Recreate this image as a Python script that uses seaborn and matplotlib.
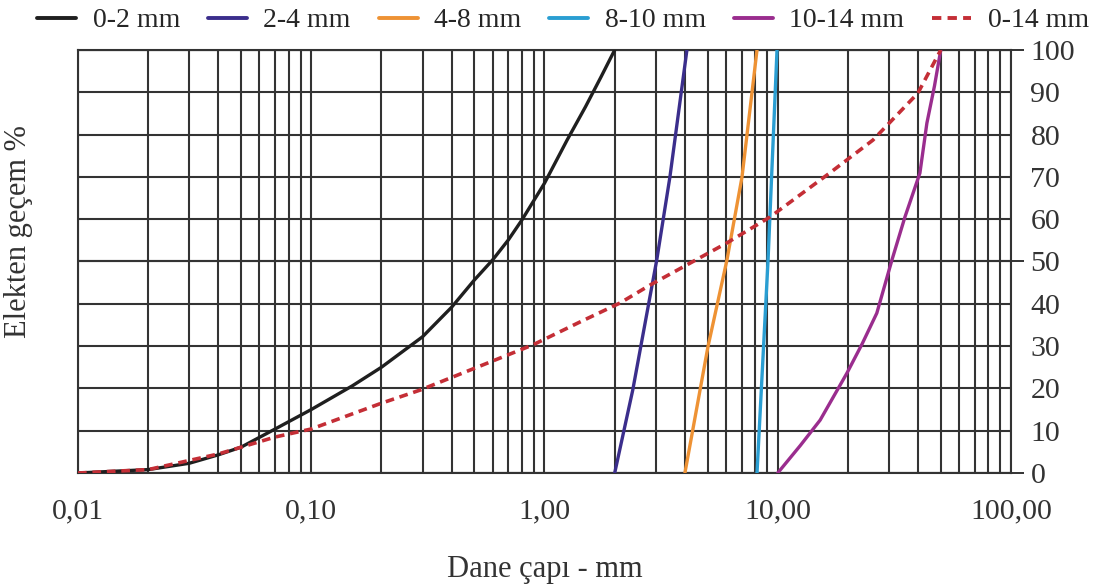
import seaborn as sns
import pandas as pd
import matplotlib.pyplot as plt
from matplotlib.ticker import FixedLocator, NullFormatter

# sieve data (grain size in mm, % passing)
x_0_2 = [0.01, 0.02, 0.03, 0.04, 0.05, 0.07, 0.10, 0.15, 0.20, 0.30, 0.40, 0.50, 0.60, 0.70,
         0.80, 1.00, 1.25, 1.50, 1.75, 2.00]
y_0_2 = [0, 0.8, 2.3, 4.3, 6.1, 10.4, 15.0, 20.6, 25.0, 32.2, 39.2, 45.6, 50.4, 55.1,
         59.8, 68.5, 78.7, 86.6, 93.7, 100]

x_2_4 = [2.0, 2.39, 3.03, 3.45, 4.08]
y_2_4 = [0, 19.6, 50.4, 70.0, 100]

x_4_8 = [4.0, 5.02, 6.06, 7.03, 8.15]
y_4_8 = [0, 29.8, 50.4, 70.0, 100]

x_8_10 = [8.15, 9.09, 9.93]
y_8_10 = [0, 50.4, 100]

x_10_14 = [10.0, 12.5, 15.2, 19.8, 23.0, 26.6, 30.9, 35.1, 40.7, 43.6, 47.0, 50.0]
y_10_14 = [0, 6.5, 12.5, 23.6, 30.5, 37.8, 50.4, 60.5, 70.9, 82.7, 91.5, 100]

x_0_14 = [0.01, 0.02, 0.04, 0.07, 0.10, 0.20, 0.293, 0.893, 1.42, 2.11, 2.83, 6.06, 9.26, 16.6, 25.6, 39.9, 50.0]
y_0_14 = [0, 0.8, 4.5, 8.5, 10.4, 16.5, 19.6, 30.3, 35.7, 40.2, 44.4, 54.4, 60.5, 70.8, 78.7, 89.8, 100]

series = [
    ('0-2 mm', x_0_2, y_0_2, '#1f1f1f', '-'),
    ('2-4 mm', x_2_4, y_2_4, '#3b2e8c', '-'),
    ('4-8 mm', x_4_8, y_4_8, '#ee9234', '-'),
    ('8-10 mm', x_8_10, y_8_10, '#2a9ed2', '-'),
    ('10-14 mm', x_10_14, y_10_14, '#9a2d8e', '-'),
    ('0-14 mm', x_0_14, y_0_14, '#c42e36', '--'),
]

xticks = [0.01, 0.1, 1, 10, 100]
xticklabels = ['0,01', '0,10', '1,00', '10,00', '100,00']
yticks = list(range(0, 101, 10))

sns.set_style('white')
plt.rcParams['font.family'] = ['Liberation Serif', 'DejaVu Serif']

fig = plt.figure(figsize=(10.94, 5.88), dpi=100)
ax = fig.add_axes([0.0713, 0.1956, 0.8528, 0.7194])

for name, xs, ys, color, ls in series:
    df = pd.DataFrame({'d': xs, 'p': ys})
    sns.lineplot(data=df, x='d', y='p', ax=ax, color=color, linestyle=ls,
                 linewidth=2.4 if ls == '-' else 2.6, label=name, zorder=3)
    if ls == '--':
        ax.lines[-1].set_dashes((2.4, 1.6))

ax.set_xscale('log')
ax.set_xlim(0.01, 100)
ax.set_ylim(0, 100)

# x axis: decades labelled, grid at every 1..9
ax.xaxis.set_major_locator(FixedLocator(xticks))
ax.set_xticklabels(xticklabels)
minor_x = [m * 10.0 ** e for e in range(-2, 2) for m in range(2, 10)]
ax.xaxis.set_minor_locator(FixedLocator(minor_x))
ax.xaxis.set_minor_formatter(NullFormatter())
ax.tick_params(axis='x', which='major', direction='out', length=12, width=1.4,
               color='#333333', labelsize=21.5, pad=6)
ax.tick_params(axis='x', which='minor', length=0)

# y axis on the right
ax.yaxis.tick_right()
ax.yaxis.set_major_locator(FixedLocator(yticks))
ax.yaxis.set_minor_locator(FixedLocator([0, 50, 100]))
ax.yaxis.remove_overlapping_locs = False
ax.tick_params(axis='y', which='major', length=0, labelsize=21.5, pad=14)
ax.tick_params(axis='y', which='minor', direction='out', length=9, width=1.4,
               color='#333333', right=True, left=False)

ax.grid(True, which='both', color='#333333', linewidth=1.5)
for sp in ax.spines.values():
    sp.set_color('#333333')
    sp.set_linewidth(1.5)

ax.set_xlabel('Dane çapı - mm', fontsize=22, color='#333333', labelpad=22)
ax.yaxis.set_label_position('left')
ax.set_ylabel('Elekten geçem %', fontsize=22, color='#333333')
ax.yaxis.set_label_coords(-0.048, 0.57)

for lab in ax.get_xticklabels() + ax.get_yticklabels():
    lab.set_color('#333333')

leg = ax.legend(loc='center left', bbox_to_anchor=(0.034, 0.965), bbox_transform=fig.transFigure,
                ncol=6, frameon=False, fontsize=20, handlelength=1.4, handletextpad=0.6,
                columnspacing=1.0, borderpad=0, borderaxespad=0)
for h in leg.get_lines():
    h.set_linewidth(2.8)

fig.savefig('out.png', dpi=100, facecolor='white')
